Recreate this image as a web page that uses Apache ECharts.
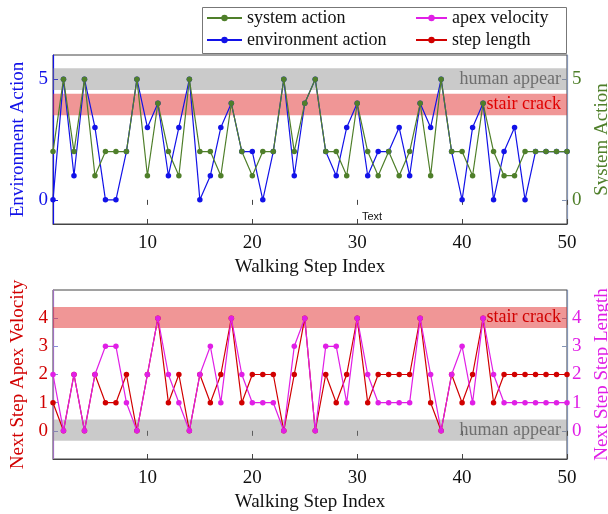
<!DOCTYPE html>
<html>
<head>
<meta charset="utf-8">
<script src="https://cdn.jsdelivr.net/npm/echarts@6/dist/echarts.min.js"></script>
<style>html,body{margin:0;padding:0;background:#fff}#c{width:608px;height:514px}</style>
</head>
<body>
<div id="c"></div>
<script>
// ---- data ----
const steps = [1,2,3,4,5,6,7,8,9,10,11,12,13,14,15,16,17,18,19,20,21,22,23,24,25,26,27,28,29,30,31,32,33,34,35,36,37,38,39,40,41,42,43,44,45,46,47,48,49,50];
const environmentAction = [0,5,1,5,3,0,0,2,5,3,4,1,3,5,0,1,3,4,2,2,0,2,5,1,4,5,2,1,3,4,1,2,2,3,1,4,3,5,2,0,3,4,0,2,3,0,2,2,2,2];
const systemAction      = [2,5,2,5,1,2,2,2,5,1,4,2,1,5,2,2,1,4,2,1,2,2,5,2,4,5,2,2,1,4,2,1,2,1,2,4,1,5,2,2,1,4,2,1,1,2,2,2,2,2];
const apexVelocity      = [2,0,2,0,2,3,3,1,0,2,4,2,1,0,2,3,1,4,2,1,1,1,0,3,4,0,3,3,1,4,2,1,1,1,1,4,2,0,2,3,1,4,2,1,1,1,1,1,1,1];
const stepLength        = [1,0,2,0,2,1,1,2,0,2,4,1,2,0,2,1,2,4,1,2,2,2,0,2,4,0,2,1,2,4,1,2,2,2,2,4,1,0,2,1,2,4,1,2,2,2,2,2,2,2];
const xTicks = [10,20,30,40,50];
const topYTicks = [0,5];
const bottomYTicks = [0,1,2,3,4];
const legendLeft = ['system action','environment action'];
const legendRight = ['apex velocity','step length'];

const C = {blue:'#1212e8', green:'#4f7f2a', red:'#d10000', magenta:'#e01fe6'};
const FONT = 'Liberation Serif';
const pair = arr => steps.map((s,i)=>[s, arr[i]]);

function xAxisBottom(grid){
  return {type:'value', gridIndex:grid, min:1, max:50, position:'bottom',
    name:'Walking Step Index', nameLocation:'middle', nameGap:34,
    nameTextStyle:{fontFamily:FONT, fontSize:19, color:'#111'},
    axisLine:{show:true, onZero:false, lineStyle:{color:'#444'}},
    axisTick:{show:true, inside:true, length:5, customValues:xTicks, lineStyle:{color:'#444'}},
    axisLabel:{customValues:xTicks, fontFamily:FONT, fontSize:19, color:'#111', margin:10, showMaxLabel:true},
    splitLine:{show:false}};
}
function xAxisTop(grid){
  return {type:'value', gridIndex:grid, min:1, max:50, position:'top',
    axisLine:{show:false},
    axisTick:{show:true, inside:true, length:5, customValues:xTicks, lineStyle:{color:'#444'}},
    axisLabel:{show:false}, splitLine:{show:false}};
}
function yAxis(grid, pos, min, max, ticks, name, labelColor, lineColor, tickColor, gap){
  return {type:'value', gridIndex:grid, position:pos, min:min, max:max,
    name:name, nameLocation:'middle', nameGap:gap, nameRotate:90,
    nameTextStyle:{fontFamily:FONT, fontSize:19, color:labelColor},
    axisLine:{show:true, onZero:false, lineStyle:{color:lineColor, width:1.2}},
    axisTick:{show:true, inside:true, length:5, customValues:ticks, lineStyle:{color:tickColor}},
    axisLabel:{customValues:ticks, fontFamily:FONT, fontSize:19, color:labelColor, margin:5},
    splitLine:{show:false}};
}
function lineSeries(name, data, color, xi, yi, z){
  return {name:name, type:'line', xAxisIndex:xi, yAxisIndex:yi, data:pair(data), z:z,
    symbol:'circle', symbolSize:5.5, showSymbol:true,
    lineStyle:{color:color, width:1.2}, itemStyle:{color:color}, animation:false};
}
function bandSeries(xi, yi, areas){
  return {name:'bands', type:'line', xAxisIndex:xi, yAxisIndex:yi, data:[], z:10, silent:true, animation:false,
    markArea:{silent:true, animation:false, data: areas.map(a=>[
      {yAxis:a[0], itemStyle:{color:a[2]}, label:{show:true, position:'insideRight', distance:6, formatter:a[3], fontFamily:FONT, fontSize:18, color:a[4]}},
      {yAxis:a[1]}
    ])}};
}

const chart = echarts.init(document.getElementById('c'), null, {renderer:'canvas'});
chart.setOption({
  backgroundColor:'#fff',
  animation:false,
  grid:[
    {left:53, top:55, width:514, height:169, show:true, borderColor:'#444', borderWidth:1, backgroundColor:'transparent', containLabel:false, outerBoundsMode:'none'},
    {left:53, top:290, width:514, height:169, show:true, borderColor:'#444', borderWidth:1, backgroundColor:'transparent', containLabel:false, outerBoundsMode:'none'}
  ],
  legend:[
    {data:legendLeft, left:206, top:9, padding:0, orient:'vertical', itemWidth:35, itemHeight:8, itemGap:4,
     textStyle:{fontFamily:FONT, fontSize:18, color:'#111'}},
    {data:legendRight, left:415, top:9, padding:0, orient:'vertical', itemWidth:31, itemHeight:8, itemGap:4,
     textStyle:{fontFamily:FONT, fontSize:18, color:'#111'}}
  ],
  xAxis:[xAxisBottom(0), xAxisTop(0), xAxisBottom(1), xAxisTop(1)],
  yAxis:[
    yAxis(0,'left',-1,6,topYTicks,'Environment Action',C.blue,C.blue,C.blue,25),
    yAxis(0,'right',-1,6,topYTicks,'System Action',C.green,'#8595b5','#8595b5',19),
    yAxis(1,'left',-1,5,bottomYTicks,'Next Step Apex Velocity',C.red,'#a070c0','#8a8ad8',25),
    yAxis(1,'right',-1,5,bottomYTicks,'Next Step Step Length',C.magenta,'#8595b5','#8595b5',22)
  ],
  series:[
    lineSeries('environment action', environmentAction, C.blue, 0, 0, 2),
    lineSeries('system action', systemAction, C.green, 0, 1, 3),
    lineSeries('step length', stepLength, C.red, 2, 2, 2),
    lineSeries('apex velocity', apexVelocity, C.magenta, 2, 3, 3),
    bandSeries(0, 0, [[4.55,5.45,'rgba(128,128,128,0.42)','human appear','#6e6e6e'],[3.5,4.4,'rgba(225,45,45,0.5)','stair crack','#e00000']]),
    bandSeries(2, 2, [[3.65,4.4,'rgba(225,45,45,0.5)','stair crack','#d00000'],[-0.35,0.4,'rgba(128,128,128,0.42)','human appear','#6e6e6e']])
  ],
  graphic:[
    {type:'rect', left:200, top:5, shape:{width:364, height:46}, style:{fill:'none', stroke:'#777', lineWidth:1}, z:100},
    {type:'text', left:362, top:211, style:{text:'Text', font:'11px "Liberation Sans", sans-serif', fill:'#111'}, z:100}
  ]
});
</script>
</body>
</html>
